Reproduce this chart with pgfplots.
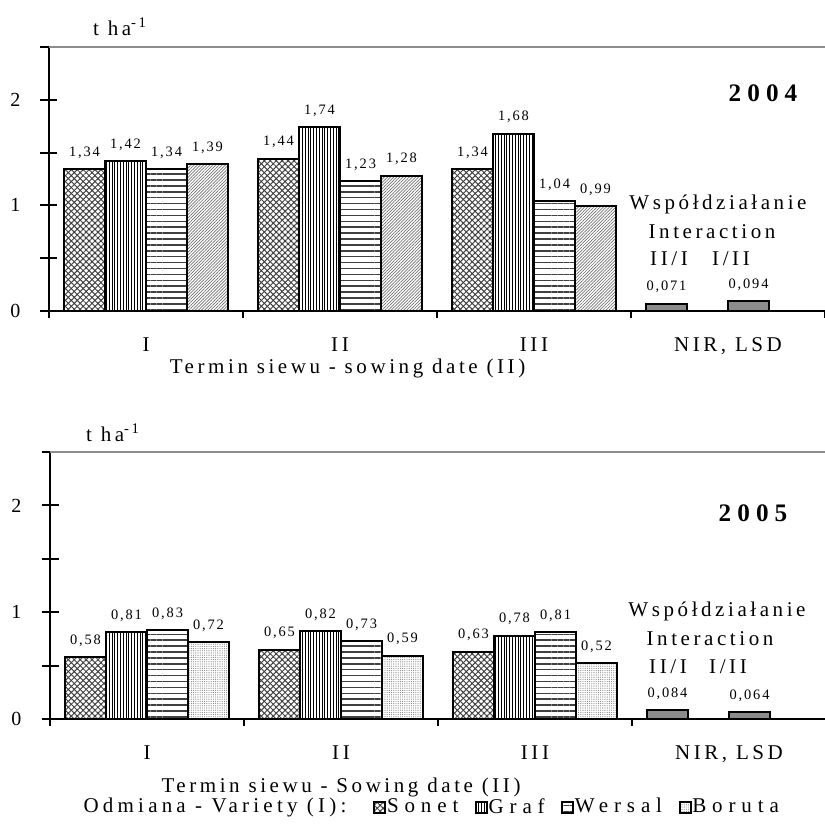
\documentclass[border=0pt]{standalone}
\usepackage{pgfplots}
\pgfplotsset{compat=1.18}
\usepackage{fontspec}
\setmainfont{Liberation Serif}
\newfontfamily\spc[LetterSpace=17]{Liberation Serif}
\newfontfamily\spcl[LetterSpace=28]{Liberation Serif}
\newfontfamily\spco[LetterSpace=20]{Liberation Serif}
\newfontfamily\spcv[LetterSpace=13]{Liberation Serif}
\newfontfamily\spcb[LetterSpace=24]{Liberation Serif}
\usetikzlibrary{patterns.meta}

\newcommand{\valf}{\spcv\fontsize{7.2}{8}\selectfont}
\newcommand{\txtf}{\spc\fontsize{10.5}{12}\selectfont}
\newcommand{\legf}{\spcl\fontsize{10.5}{12}\selectfont}
\newcommand{\odmf}{\spco\fontsize{10.5}{12}\selectfont}
\newcommand{\yearf}{\spcb\bfseries\fontsize{12.6}{14}\selectfont}

\tikzset{
  sonetpat/.style={preaction={pattern={Lines[angle=45,distance=2.1pt,line width=0.5pt]}, pattern color=black!75},
                   preaction={pattern={Lines[angle=-45,distance=2.1pt,line width=0.5pt]}, pattern color=black!75}},
  grafpat/.style={preaction={pattern={Lines[angle=90,distance=1.4pt,line width=0.4pt]}, pattern color=black}},
  wersalpat/.style={preaction={pattern={Lines[angle=0,distance=2.95pt,line width=0.75pt]}, pattern color=black!75}},
  boruta4pat/.style={preaction={pattern={Lines[angle=45,distance=1.1pt,line width=0.35pt]}, pattern color=black!55}},
  boruta5pat/.style={preaction={pattern={Dots[distance=1.1pt,radius=0.28pt]}, pattern color=black!50}},
}

\pgfplotsset{
  mybar/.style={ybar, bar width=0.2113, bar shift=0pt, draw=black, line width=1pt,
    nodes near coords={\pgfmathprintnumber[use comma,fixed,fixed zerofill,precision=2,assume math mode=true]{\pgfplotspointmeta}},
    nodes near coords style={font=\valf, anchor=base, yshift=6.5pt, text=black, inner sep=0pt}},
  nirbar/.style={ybar, bar width=0.2113, bar shift=0pt, draw=black, line width=1pt, fill=black!45, forget plot,
    nodes near coords={\pgfmathprintnumber[use comma,fixed,fixed zerofill,precision=3,assume math mode=true]{\pgfplotspointmeta}},
    nodes near coords style={font=\valf, anchor=base, yshift=6.5pt, text=black, inner sep=0pt}},
  mychart/.style={
    width=388pt, scale only axis,
    xmin=0, xmax=4, ymin=0, ymax=2.5,
    axis lines=left, axis line style={black, line width=1pt, -},
    clip=false,
    xtick={0,1,2,3,4}, x tick label as interval, xticklabels={I,II,III,{NIR, LSD}},
    ytick={0,1,2}, minor ytick={0.5,1.5,2.5},
    xtick align=outside, ytick align=center,
    major tick length=8.5pt, minor tick length=8.5pt,
    every tick/.style={black, line width=1pt},
    xtick style={/pgfplots/major tick length=3.5pt},
    xticklabel style={font=\txtf, yshift=-1.5pt},
    yticklabel style={font=\fontsize{10}{11}\selectfont, xshift=-6.5pt},
    /pgf/number format/assume math mode=true,
    xlabel style={font=\txtf, anchor=center},
    legend image code/.code={\draw[##1, line width=0.6pt] (0pt,-2.75pt) rectangle (5.5pt,2.75pt);},
  }
}

\begin{document}
\begin{tikzpicture}
% ---------- 2004 ----------
\begin{axis}[mychart, at={(0,0)}, height=132pt,
  xlabel={Termin siewu - sowing date (II)},
  xlabel style={at={(rel axis cs:0.3847,0)}, yshift=-28.5pt}]
\addplot[mybar, sonetpat] coordinates {(0.183,1.34) (1.183,1.44) (2.183,1.34)};
\addplot[mybar, grafpat] coordinates {(0.394,1.42) (1.394,1.74) (2.394,1.68)};
\addplot[mybar, wersalpat] coordinates {(0.606,1.34) (1.606,1.23) (2.606,1.04)};
\addplot[mybar, boruta4pat] coordinates {(0.817,1.39) (1.817,1.28) (2.817,0.99)};
\addplot[nirbar] coordinates {(3.183,0.071) (3.606,0.094)};
\draw[black!45, line width=0.8pt] (axis cs:0,2.5) -- (axis cs:4,2.5);
\end{axis}
\node[font=\txtf] at (35.5pt,142pt) {t ha\textsuperscript{-1}};
\node[font=\yearf] at (357pt,109pt) {2004};
\node[font=\txtf] at (334.5pt,53.5pt) {Współdziałanie};
\node[font=\txtf] at (331.5pt,39.5pt) {Interaction};
\node[font=\txtf] at (310pt,26pt) {II/I};
\node[font=\txtf] at (341pt,26pt) {I/II};

% ---------- 2005 ----------
\begin{axis}[mychart, at={(0.5pt,-204pt)}, height=133.5pt,
  xlabel={Termin siewu - Sowing date (II)},
  xlabel style={at={(rel axis cs:0.375,0)}, yshift=-34pt},
  legend columns=4,
  legend style={at={(rel axis cs:0.4168,-0.33)}, anchor=west, draw=none, fill=none, inner sep=0pt,
    font=\legf, nodes={inner sep=0.5pt},
    /tikz/every even column/.append style={column sep=8pt}}]
\addplot[mybar, sonetpat] coordinates {(0.183,0.58) (1.183,0.65) (2.183,0.63)};
\addlegendentry{Sonet}
\addplot[mybar, grafpat] coordinates {(0.394,0.81) (1.394,0.82) (2.394,0.78)};
\addlegendentry{Graf}
\addplot[mybar, wersalpat] coordinates {(0.606,0.83) (1.606,0.73) (2.606,0.81)};
\addlegendentry{Wersal}
\addplot[mybar, boruta5pat] coordinates {(0.817,0.72) (1.817,0.59) (2.817,0.52)};
\addlegendentry{Boruta}
\addplot[nirbar] coordinates {(3.183,0.084) (3.606,0.064)};
\draw[black!45, line width=0.8pt] (axis cs:0,2.5) -- (axis cs:4,2.5);
\end{axis}
\node[font=\txtf] at (32pt,-61pt) {t ha\textsuperscript{-1}};
\node[font=\yearf] at (352pt,-101pt) {2005};
\node[font=\txtf] at (334pt,-150pt) {Współdziałanie};
\node[font=\txtf] at (330.5pt,-164pt) {Interaction};
\node[font=\txtf] at (309.5pt,-178pt) {II/I};
\node[font=\txtf] at (339.5pt,-178pt) {I/II};
\node[font=\odmf] at (83pt,-248pt) {Odmiana - Variety (I):};

\pgfresetboundingbox
\path[use as bounding box] (-24.5pt,-259pt) rectangle (387.5pt,155.5pt);
\end{tikzpicture}
\end{document}
